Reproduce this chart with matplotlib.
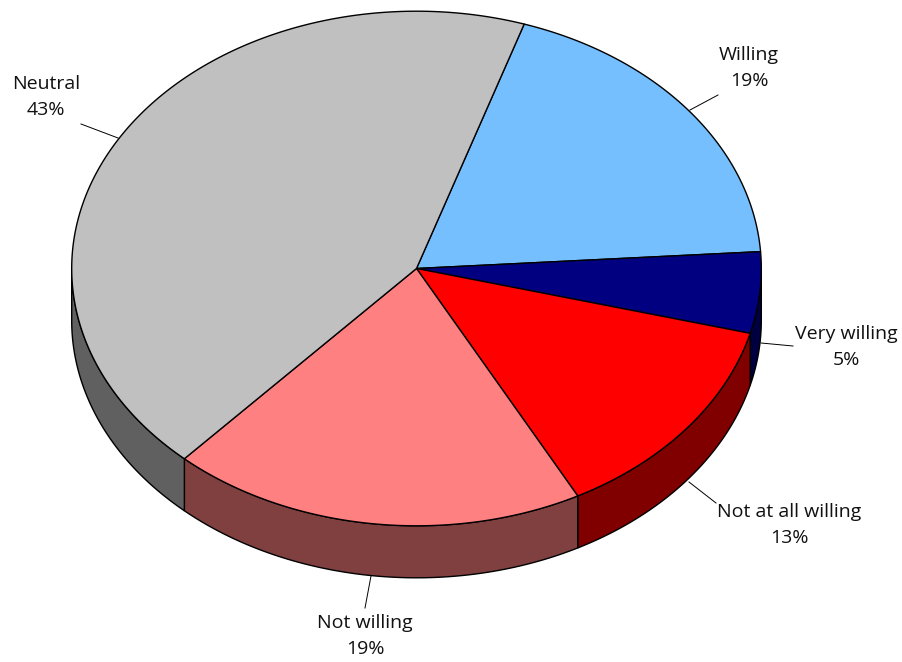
"""3D-style pie of willingness shares, drawn on a pixel-sized axes."""
import numpy as np
import matplotlib
matplotlib.use("Agg")
import matplotlib.pyplot as plt
from matplotlib.patches import Polygon

categories = ["Willing", "Very willing", "Not at all willing", "Not willing", "Neutral"]
shares = [18.9, 5.1, 13.2, 19.5, 43.3]
percent_labels = ["19%", "5%", "13%", "19%", "43%"]

top_colors = ["#75BFFF", "#000080", "#FF0000", "#FF8080", "#C0C0C0"]
side_colors = ["#3A6080", "#000040", "#800000", "#804040", "#606060"]

W, H = 903, 662
CX, CY = 416.5, 268.5
RX, RY = 344.8, 257.3
DEPTH = 52
START = 18.2  # degrees clockwise from 12 o'clock

plt.rcParams["font.family"] = ["Open Sans", "DejaVu Sans"]


def rim(a0, a1):
    t = np.radians(np.linspace(a0, a1, max(int(abs(a1 - a0) * 2), 2)))
    return CX + RX * np.sin(t), CY - RY * np.cos(t)


fig = plt.figure(figsize=(W / 100, H / 100), dpi=100)
ax = fig.add_axes([0, 0, 1, 1])
ax.set_xlim(0, W)
ax.set_ylim(H, 0)
ax.axis("off")

edges = START + np.concatenate([[0], np.cumsum(shares)]) * 360 / sum(shares)

# walls first: only the part of the rim facing the viewer (90..270 deg)
for i in range(len(shares)):
    a0, a1 = max(edges[i], 90), min(edges[i + 1], 270)
    if a1 <= a0:
        continue
    x, y = rim(a0, a1)
    pts = np.r_[np.c_[x, y], np.c_[x, y + DEPTH][::-1]]
    ax.add_patch(Polygon(pts, closed=True, fc=side_colors[i], ec="black", lw=1.0, zorder=2))

for i in range(len(shares)):
    x, y = rim(edges[i], edges[i + 1])
    pts = np.r_[[[CX, CY]], np.c_[x, y]]
    ax.add_patch(Polygon(pts, closed=True, fc=top_colors[i], ec="black", lw=1.0,
                         joinstyle="round", zorder=3))

# label text centres and leader lines, in the same order as categories
label_xy = [(749, 68), (846, 347), (789, 525), (365, 636), (46, 97)]
leaders = [((718, 95), (690, 110)), ((793, 346), (761, 343)), ((716, 503), (689, 482)),
           ((365, 608), (371, 576)), ((81, 124), (118, 138))]

for i, name in enumerate(categories):
    ax.text(label_xy[i][0], label_xy[i][1], f"{name}\n{percent_labels[i]}", ha="center", va="center",
            fontsize=14, color="#111111", linespacing=1.58, zorder=5)
    p, q = leaders[i]
    ax.plot([p[0], q[0]], [p[1], q[1]], color="black", lw=0.7, zorder=4)

fig.savefig("out.png", dpi=100)
